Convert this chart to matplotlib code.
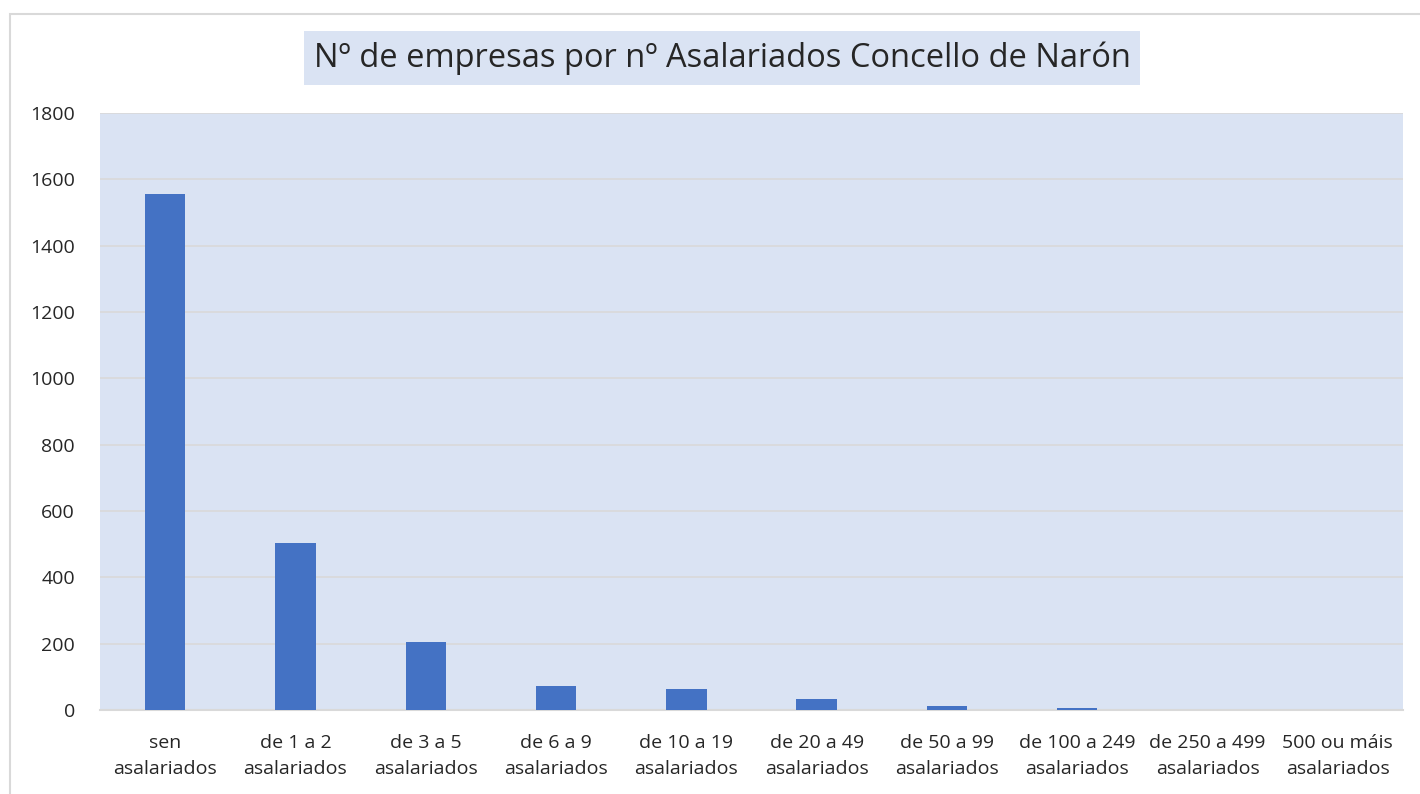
import numpy as np
import matplotlib.pyplot as plt
from matplotlib.patches import Rectangle

categories = ['sen\nasalariados', 'de 1 a 2\nasalariados', 'de 3 a 5\nasalariados',
              'de 6 a 9\nasalariados', 'de 10 a 19\nasalariados', 'de 20 a 49\nasalariados',
              'de 50 a 99\nasalariados', 'de 100 a 249\nasalariados',
              'de 250 a 499\nasalariados', '500 ou máis\nasalariados']
empresas = [1555, 503, 205, 71, 64, 33, 13, 6, 0, 0]
yTicks = [0, 200, 400, 600, 800, 1000, 1200, 1400, 1600, 1800]
title = 'Nº de empresas por nº Asalariados Concello de Narón'

plt.rcParams['font.family'] = ['Open Sans', 'DejaVu Sans']

barColor = '#4472C4'
bgColor = '#DAE3F3'
gridColor = '#D9D9D9'
textColor = '#262626'

fig = plt.figure(figsize=(14.2, 7.94), dpi=100)
ax = fig.add_axes([100 / 1420, 1 - 710 / 794, 1303 / 1420, 597 / 794])

# outer chart frame
fig.patches.append(Rectangle((10 / 1420, -0.01), 1.02, 1 - 14 / 794 + 0.01,
                             transform=fig.transFigure, fill=False,
                             edgecolor='#D9D9D9', linewidth=1.5))

x = np.arange(len(categories))
ax.set_facecolor(bgColor)
ax.bar(x, empresas, width=0.31, color=barColor, zorder=3)

ax.set_xlim(-0.5, len(categories) - 0.5)
ax.set_ylim(0, 1800)
ax.set_yticks(yTicks)
ax.set_xticks(x)
ax.set_xticklabels(categories, fontsize=14, color=textColor, linespacing=1.6)
ax.tick_params(axis='y', labelsize=14, labelcolor=textColor, length=0, pad=18)
ax.tick_params(axis='x', length=0, pad=17)
ax.grid(axis='y', color=gridColor, linewidth=1.2, zorder=0)

for s in ['top', 'right', 'left']:
    ax.spines[s].set_visible(False)
ax.spines['bottom'].set_color(gridColor)
ax.spines['bottom'].set_linewidth(1.5)

fig.text(722 / 1420, 1 - 58 / 794, title, ha='center', va='center',
         fontsize=23.5, color=textColor,
         bbox=dict(facecolor=bgColor, edgecolor='none', boxstyle='square,pad=0.3'))

fig.savefig('out.png', dpi=100)
